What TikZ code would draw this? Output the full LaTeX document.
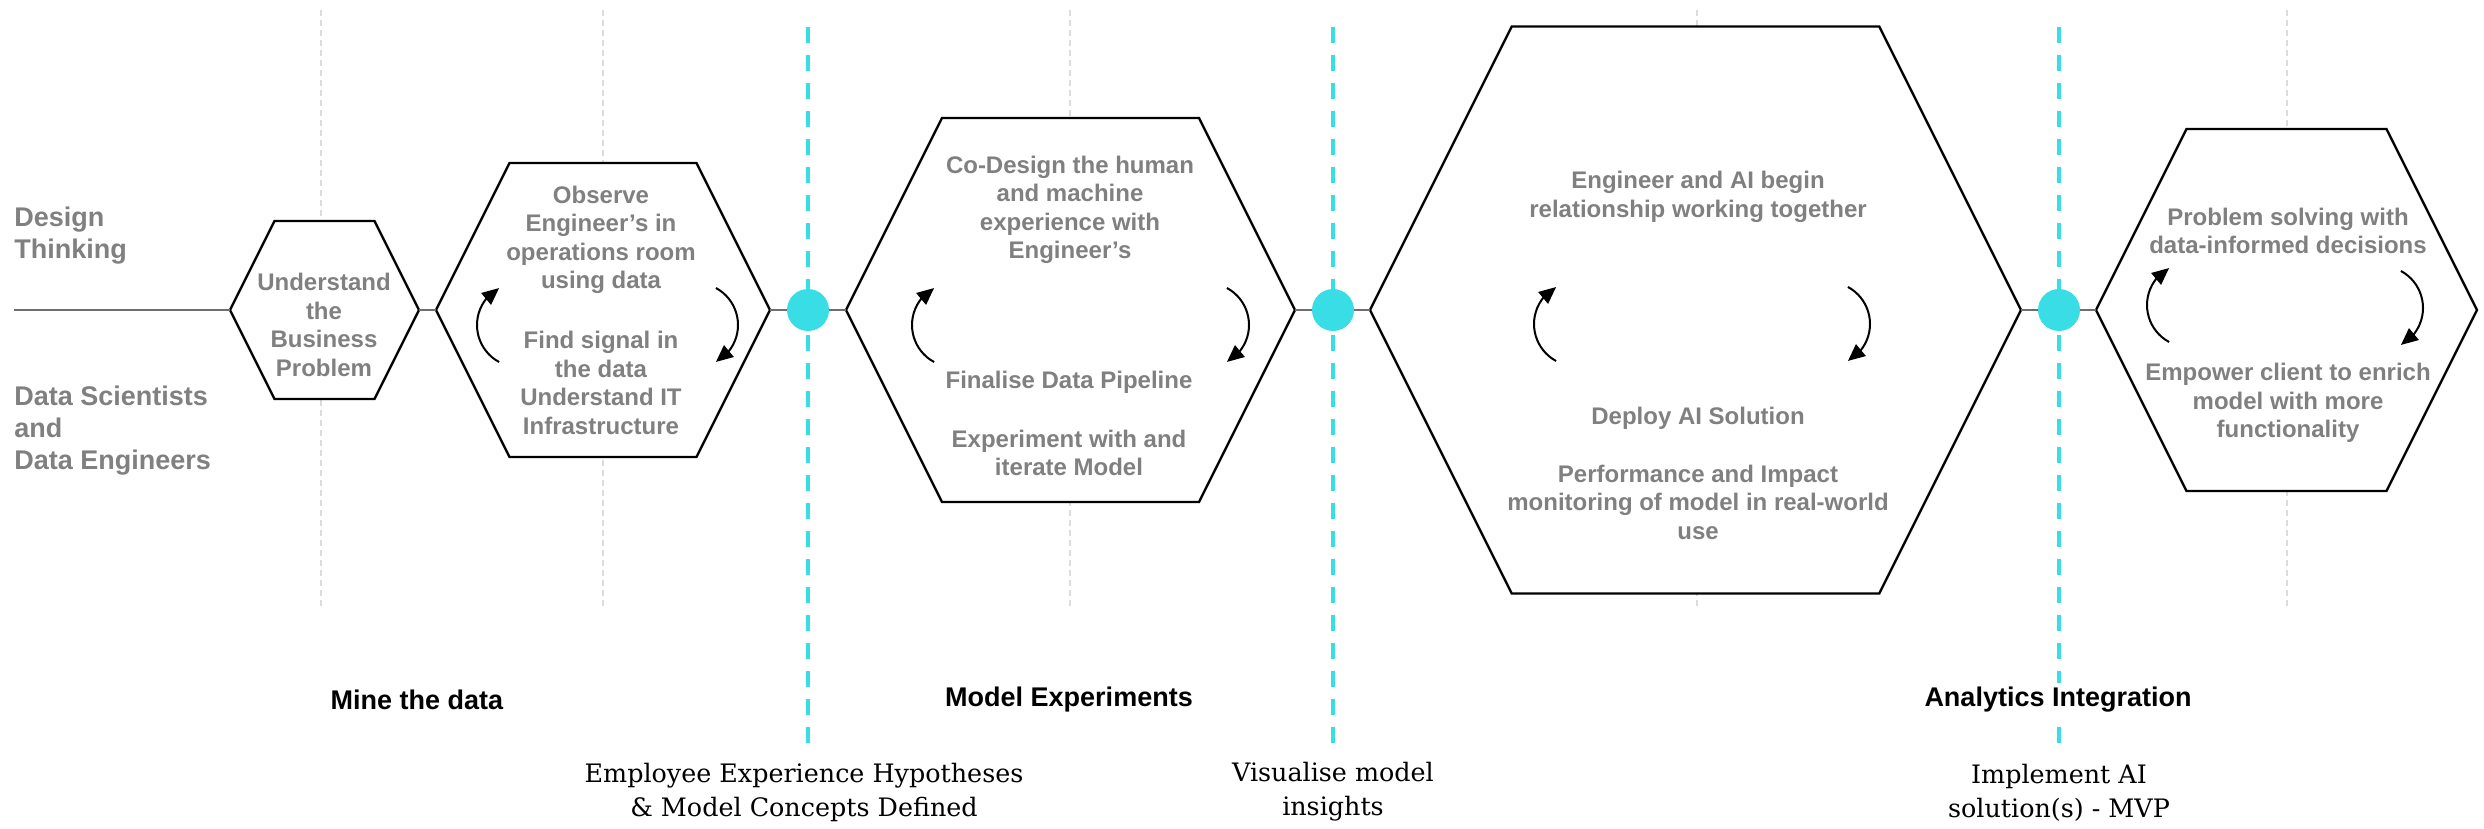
\documentclass[tikz,border=0pt]{standalone}
\usepackage{fontspec}
\setmainfont{Liberation Sans}
\newfontfamily\serifdv{DejaVu Serif}
\usetikzlibrary{arrows.meta,bending}
\definecolor{cyanline}{RGB}{56,221,230}
\definecolor{txtgray}{RGB}{128,128,128}
\definecolor{linegray}{RGB}{110,110,110}
\definecolor{guidegray}{RGB}{220,220,220}
% name, cx, cy, half width, half height
\newcommand{\hexpath}[5]{%
  \pgfmathsetmacro{\hxs}{#5/2}%
  \draw[hexline] ({#2-#4},#3) -- ({#2-#4+\hxs},{#3-#5}) -- ({#2+#4-\hxs},{#3-#5})
     -- ({#2+#4},#3) -- ({#2+#4-\hxs},{#3+#5}) -- ({#2-#4+\hxs},{#3+#5}) -- cycle;
  \coordinate (#1w) at ({#2-#4},#3);
  \coordinate (#1e) at ({#2+#4},#3);
}
% left arc centre x,y ; right arc centre x,y
\newcommand{\loopArrows}[4]{%
  \draw[cycarrow] ({#1-19.9},{#2+37}) arc[start angle=118.3,end angle=241.7,radius=42];
  \draw[cycarrow] ({#3+19.9},{#4-37}) arc[start angle=-61.7,end angle=61.7,radius=42];
}
\begin{document}
\begin{tikzpicture}[x=0.5pt,y=-0.5pt,
  hexline/.style={draw=black,line width=1.2pt,fill=white,line join=miter},
  hextext/.style={text=txtgray,font=\fontsize{12}{14.25}\selectfont\bfseries,align=center,inner sep=0pt},
  sidelabel/.style={text=txtgray,font=\fontsize{13.5}{16}\selectfont\bfseries,align=left,anchor=west,inner sep=0pt},
  phaselabel/.style={text=black,font=\fontsize{13.5}{16}\selectfont\bfseries,fill=white,inner sep=2pt},
  milestone/.style={text=black,font=\serifdv\fontsize{12.7}{17}\selectfont,align=center,inner sep=0pt},
  guide/.style={draw=guidegray,line width=0.75pt,dash pattern=on 3pt off 2pt},
  gate/.style={draw=cyanline,line width=2pt,dash pattern=on 8pt off 6pt},
  conn/.style={draw=linegray,line width=0.75pt},
  dot/.style={circle,fill=cyanline,inner sep=0pt,minimum size=21pt},
  cycarrow/.style={draw=black,line width=1pt,-{Triangle[length=8.5pt,width=7.5pt,flex]}}
]
\useasboundingbox (0,0) rectangle (2484,829);

% light guide lines
\foreach \gx in {321,603,1070,1697,2287} \draw[guide] (\gx,10) -- (\gx,610);
% cyan gate lines
\foreach \gx in {808,1333,2059} \draw[gate] (\gx,27) -- (\gx,743);

% hexagons
\hexpath{h1}{324.5}{310}{94.5}{89}
\hexpath{h2}{603}{310}{167}{147}
\hexpath{h3}{1070.5}{310}{224.5}{192}
\hexpath{h4}{1695.5}{310}{325.5}{283.5}
\hexpath{h5}{2286.5}{310}{190.5}{181}

% dots
\node[dot] (d1) at (808,310) {};
\node[dot] (d2) at (1333,310) {};
\node[dot] (d3) at (2059,310) {};

% connectors
\coordinate (start) at (14,310);
\draw[conn] (start) -- (h1w);
\draw[conn] (h1e) -- (h2w);
\draw[conn] (h2e) -- (d1);
\draw[conn] (d1) -- (h3w);
\draw[conn] (h3e) -- (d2);
\draw[conn] (d2) -- (h4w);
\draw[conn] (h4e) -- (d3);
\draw[conn] (d3) -- (h5w);

% side labels
\node[sidelabel] (dt) at (14,236) {Design\\Thinking};
\node[sidelabel] (ds) at (14,431) {Data Scientists\\and\\Data Engineers};

% hexagon texts
\node[hextext] (t1) at (324,325) {Understand\\the\\Business\\Problem};
\node[hextext] (t2a) at (601,240) {Observe\\Engineer’s in\\operations room\\using data};
\node[hextext] (t2b) at (601,383) {Find signal in\\the data\\Understand IT\\Infrastructure};
\node[hextext] (t3a) at (1070,210) {Co-Design the human\\and machine\\experience with\\Engineer’s};
\node[hextext] (t3b) at (1069,382) {Finalise Data Pipeline};
\node[hextext] (t3c) at (1069,453) {Experiment with and\\iterate Model};
\node[hextext] (t4a) at (1698,197) {Engineer and AI begin\\relationship working together};
\node[hextext] (t4b) at (1698,418) {Deploy AI Solution};
\node[hextext] (t4c) at (1698,502) {Performance and Impact\\monitoring of model in real-world\\use};
\node[hextext] (t5a) at (2288,231) {Problem solving with\\data-informed decisions};
\node[hextext] (t5b) at (2288,403) {Empower client to enrich\\model with more\\functionality};

% loop arrows
\loopArrows{519}{325}{696}{325}
\loopArrows{954}{325}{1207}{325}
\loopArrows{1576}{324}{1828}{324}
\loopArrows{2189}{305}{2381}{308}

% phase labels
\node[phaselabel] (p1) at (417,700) {Mine the data};
\node[phaselabel] (p2) at (1069,700) {Model Experiments};
\node[phaselabel] (p3) at (2058,700) {Analytics Integration};

% milestone labels
\node[milestone] (m1) at (804,792) {Employee Experience Hypotheses\\\& Model Concepts Defined};
\node[milestone] (m2) at (1333,792) {Visualise model\\insights};
\node[milestone] (m3) at (2059,793) {Implement AI\\solution(s) - MVP};
\end{tikzpicture}
\end{document}
